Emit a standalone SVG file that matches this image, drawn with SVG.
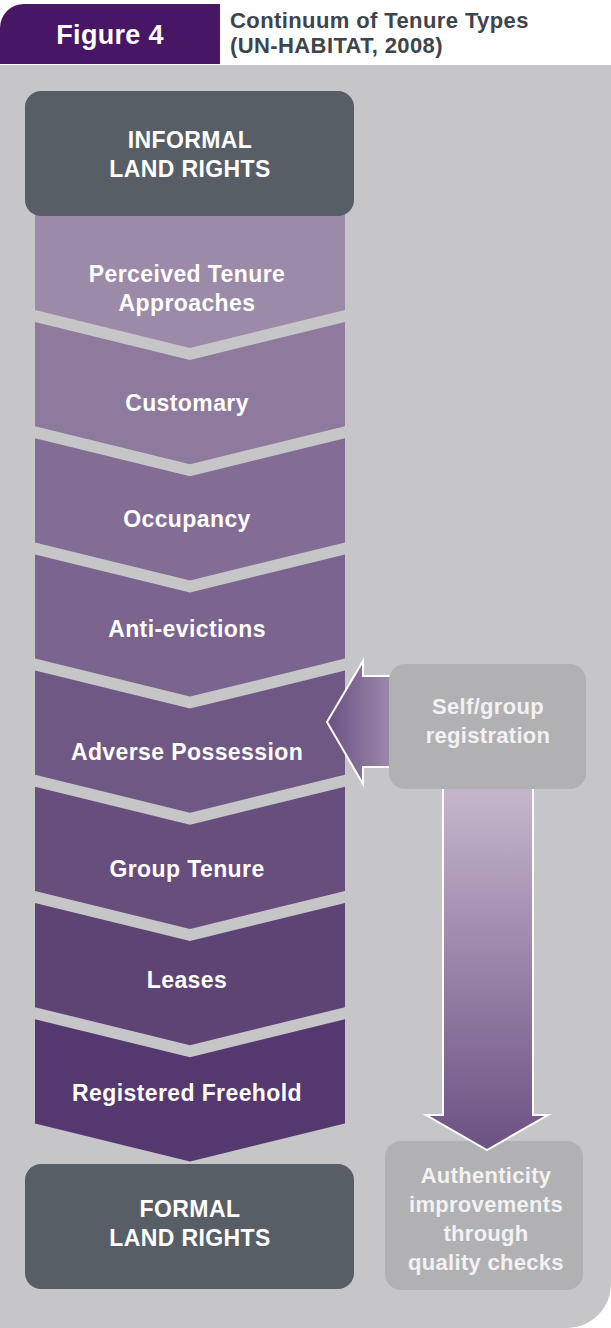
<svg xmlns="http://www.w3.org/2000/svg" width="611" height="1328" viewBox="0 0 611 1328">
<style>
.t{font-family:"Liberation Sans",Arial,sans-serif;font-weight:bold;font-size:23px;fill:#ffffff;text-anchor:middle;letter-spacing:0.4px}
.g{font-family:"Liberation Sans",Arial,sans-serif;font-weight:bold;font-size:22px;fill:#f2f2f2;text-anchor:middle;letter-spacing:0.3px}
.dark{fill:#575e65}
.side{fill:#b1b1b4}
</style>
<defs>
<linearGradient id="lg" x1="327" y1="0" x2="392" y2="0" gradientUnits="userSpaceOnUse">
<stop offset="0" stop-color="#6a5083"/>
<stop offset="1" stop-color="#9d8bac"/>
</linearGradient>
<linearGradient id="dg" x1="0" y1="786" x2="0" y2="1150" gradientUnits="userSpaceOnUse">
<stop offset="0" stop-color="#c5b7cd"/>
<stop offset="1" stop-color="#6c5182"/>
</linearGradient>
</defs>
<rect x="0" y="0" width="611" height="1328" fill="#ffffff"/>
<path d="M0,65 H611 V1284 A44,44 0 0 1 567,1328 H0 Z" fill="#c6c6c8"/>
<g id="header">
<path d="M0,64 V28 A24,24 0 0 1 24,4 H220 V64 Z" fill="#471766"/>
<text x="110" y="44" font-family="'Liberation Sans',Arial,sans-serif" font-weight="bold" font-size="27" fill="#ffffff" text-anchor="middle" letter-spacing="0.3">Figure 4</text>
<text font-family="'Liberation Sans',Arial,sans-serif" font-weight="bold" font-size="22" fill="#3d444b" letter-spacing="0.4"><tspan x="230" y="28">Continuum of Tenure Types</tspan><tspan x="230" y="53">(UN-HABITAT, 2008)</tspan></text>
</g>
<g id="chevrons">
<g id="c1"><polygon points="35,205 345,205 345,310 190,348 35,310" fill="#9b8aa8"/><text class="t"><tspan x="187" y="282">Perceived Tenure</tspan><tspan x="187" y="311">Approaches</tspan></text></g>
<g id="c2"><polygon points="35,322 190,360 345,322 345,426.2 190,464.2 35,426.2" fill="#8d7a9d"/><text class="t" x="187" y="411">Customary</text></g>
<g id="c3"><polygon points="35,438.2 190,476.2 345,438.2 345,542.4 190,580.4 35,542.4" fill="#836d95"/><text class="t" x="187" y="527">Occupancy</text></g>
<g id="c4"><polygon points="35,554.4 190,592.4 345,554.4 345,658.6 190,696.6 35,658.6" fill="#7b658e"/><text class="t" x="187" y="637">Anti-evictions</text></g>
<g id="c5"><polygon points="35,670.6 190,708.6 345,670.6 345,774.8 190,812.8 35,774.8" fill="#705884"/><text class="t" x="187" y="760">Adverse Possession</text></g>
<g id="c6"><polygon points="35,786.8 190,824.8 345,786.8 345,891 190,929 35,891" fill="#674e7c"/><text class="t" x="187" y="877">Group Tenure</text></g>
<g id="c7"><polygon points="35,903 190,941 345,903 345,1007.2 190,1045.2 35,1007.2" fill="#5e4475"/><text class="t" x="187" y="988">Leases</text></g>
<g id="c8"><polygon points="35,1019.2 190,1057.2 345,1019.2 345,1123.4 190,1161.4 35,1123.4" fill="#55386f"/><text class="t" x="187" y="1101">Registered Freehold</text></g>
</g>
<g id="informal"><rect x="25" y="91" width="329" height="125" rx="16" class="dark"/><text class="t"><tspan x="190" y="148">INFORMAL</tspan><tspan x="190" y="177">LAND RIGHTS</tspan></text></g>
<g id="formal"><rect x="25" y="1164" width="329" height="125" rx="16" class="dark"/><text class="t"><tspan x="190" y="1217">FORMAL</tspan><tspan x="190" y="1246">LAND RIGHTS</tspan></text></g>
<g id="authenticity"><rect x="385" y="1141" width="198" height="149" rx="16" class="side"/><text class="g"><tspan x="486" y="1183">Authenticity</tspan><tspan x="486" y="1212">improvements</tspan><tspan x="486" y="1241">through</tspan><tspan x="486" y="1270">quality checks</tspan></text></g>
<g id="connectors">
<polygon points="327,722 363,661 363,676 395,676 395,767 363,767 363,784" fill="url(#lg)" stroke="#ffffff" stroke-width="2"/>
<polygon points="443,780 533,780 533,1115 548,1115 487,1150 426,1115 443,1115" fill="url(#dg)" stroke="#ffffff" stroke-width="2"/>
</g>
<g id="selfgroup"><rect x="389" y="664" width="197" height="125" rx="16" class="side"/><text class="g"><tspan x="488" y="714">Self/group</tspan><tspan x="488" y="743">registration</tspan></text></g>
</svg>
